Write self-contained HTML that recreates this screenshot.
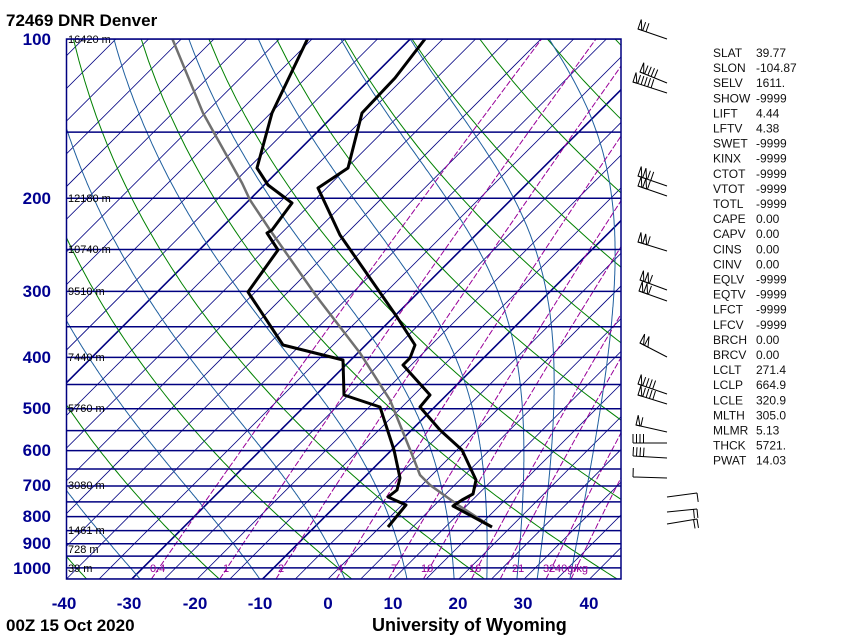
<!DOCTYPE html>
<html><head><meta charset="utf-8"><style>
html,body{margin:0;padding:0;background:#fff;}
svg{display:block;font-family:"Liberation Sans",sans-serif;}
</style></head><body>
<svg id="s" width="851" height="640" viewBox="0 0 851 640" xmlns="http://www.w3.org/2000/svg">
<defs><clipPath id="c"><rect x="66" y="39" width="555" height="540"/></clipPath></defs>
<rect width="851" height="640" fill="#fff"/>
<g id="bg" clip-path="url(#c)"></g>
<g id="fg" clip-path="url(#c)">
<polyline fill="none" stroke="#707070" stroke-width="2.5" points="172,38 203,113 242,183 250,200 270,230 317,297 360,353 390,400 413,457 420,475 430,485 458,505 492,527"/>
<polyline fill="none" stroke="#000" stroke-width="3" stroke-linejoin="round" points="425,39 395,78 362,113 348,168 318,188 340,235 397,317 415,345 410,358 403,365 430,395 420,407 440,430 462,450 476,480 473,494 462,500 453,506 492,527"/>
<polyline fill="none" stroke="#000" stroke-width="3" stroke-linejoin="round" points="308,38 272,113 257,168 268,185 292,203 272,230 267,233 278,250 248,292 283,345 343,360 344,395 380,407 394,450 400,478 397,490 388,497 406,505 388,527"/>
</g>
<g font-size="11" fill="#000">
<text x="68" y="43">16420 m</text><text x="68" y="202">12180 m</text><text x="68" y="253">10740 m</text>
<text x="68" y="295">9510 m</text><text x="68" y="361">7440 m</text><text x="68" y="412">5760 m</text>
<text x="68" y="489">3080 m</text><text x="68" y="534">1461 m</text><text x="68" y="553">728 m</text><text x="68" y="572">39 m</text>
</g>
<g font-size="11" fill="#990099">
<text x="150" y="572">0.4</text><text x="223" y="572">1</text><text x="278" y="572">2</text><text x="337" y="572">4</text>
<text x="391" y="572">7</text><text x="421" y="572">10</text><text x="469" y="572">16</text><text x="512" y="572">21</text>
<text x="543" y="572">32</text><text x="555" y="572">40g/kg</text>
</g>
<g font-size="17" font-weight="bold" fill="#000090" text-anchor="end">
<text x="51" y="45">100</text><text x="51" y="204">200</text><text x="51" y="297">300</text><text x="51" y="363">400</text>
<text x="51" y="414">500</text><text x="51" y="456">600</text><text x="51" y="491">700</text><text x="51" y="522">800</text>
<text x="51" y="549">900</text><text x="51" y="574">1000</text>
</g>
<g font-size="17" font-weight="bold" fill="#000090" text-anchor="middle">
<text x="64" y="609">-40</text><text x="129" y="609">-30</text><text x="195" y="609">-20</text><text x="260" y="609">-10</text>
<text x="328" y="609">0</text><text x="393" y="609">10</text><text x="458" y="609">20</text><text x="523" y="609">30</text><text x="589" y="609">40</text>
</g>
<text x="6" y="26" font-size="17" font-weight="bold">72469 DNR Denver</text>
<text x="6" y="631" font-size="17" font-weight="bold">00Z 15 Oct 2020</text>
<text x="372" y="631" font-size="18" font-weight="bold">University of Wyoming</text>
<g font-size="12" fill="#111" id="tbl"></g>
<g id="wb" fill="none" stroke="#000" stroke-width="1"></g>
</svg>
<script>
(function(){
var NS="http://www.w3.org/2000/svg";
function el(par,tag,at){var e=document.createElementNS(NS,tag);for(var k in at)e.setAttribute(k,at[k]);par.appendChild(e);return e;}
var bg=document.getElementById('bg');
function Y(p){return 39+229.7*Math.log(p/100);}
function X(T,p){return 328+6.54*T+(579-Y(p));}
function poly(pts,col,w,dash){var a={points:pts.map(function(q){return q[0].toFixed(1)+","+q[1].toFixed(1)}).join(" "),fill:"none",stroke:col,"stroke-width":w};if(dash)a["stroke-dasharray"]=dash;el(bg,"polyline",a);}
// isotherms
for(var T=-170;T<=60;T+=5){var thick=(T==-70||T==-30||T==-10);
 el(bg,"line",{x1:X(T,1050),y1:Y(1050),x2:X(T,100),y2:Y(100),stroke:"#000080","stroke-width":thick?1.6:0.8});}
// dry adiabats
for(var th=233;th<=600;th+=20){var pts=[];for(var p=1050;p>=100;p-=10){pts.push([X(th*Math.pow(p/1000,0.286)-273.15,p),Y(p)]);}poly(pts,"#008000",1);}
// moist adiabats
function es(t){return 6.112*Math.exp(17.67*t/(t+243.5));}
var starts=[-45,-28.7,-10.4,2.6,12.1,19.3,24.3,28.9,32,37];
starts.forEach(function(t0){var t=t0,pts=[];for(var p=1050;p>=100;p-=2){pts.push([X(t,p),Y(p)]);var TK=t+273.15,e=es(t),rs=0.622*e/(p-e);
 var d=(287*TK+2.5e6*rs)/(p*(1004+2.5e6*2.5e6*rs*0.622/(287*TK*TK)));t-=d*2;}poly(pts,"#1f5f9f",1);});
// mixing ratio
[0.4,1,2,4,7,10,16,21,32,40].forEach(function(r){r/=1000;var pts=[];for(var p=1050;p>=100;p-=10){var e=r*p/(0.622+r);var l=Math.log(e/6.112);var td=243.5*l/(17.67-l);pts.push([X(td,p),Y(p)]);}poly(pts,"#990099",1,"6,2");});
// isobars
for(var p=100;p<=1050;p+=50){el(bg,"line",{x1:66,x2:621,y1:Y(p),y2:Y(p),stroke:"#000080","stroke-width":1.5});}
var s=document.getElementById('s');
el(s,"rect",{x:66.5,y:39,width:554.5,height:540,fill:"none",stroke:"#000080","stroke-width":1.5});
// table
var tb=document.getElementById('tbl');
var rows=[["SLAT","39.77"],["SLON","-104.87"],["SELV","1611."],["SHOW","-9999"],["LIFT","4.44"],["LFTV","4.38"],["SWET","-9999"],["KINX","-9999"],["CTOT","-9999"],["VTOT","-9999"],["TOTL","-9999"],["CAPE","0.00"],["CAPV","0.00"],["CINS","0.00"],["CINV","0.00"],["EQLV","-9999"],["EQTV","-9999"],["LFCT","-9999"],["LFCV","-9999"],["BRCH","0.00"],["BRCV","0.00"],["LCLT","271.4"],["LCLP","664.9"],["LCLE","320.9"],["MLTH","305.0"],["MLMR","5.13"],["THCK","5721."],["PWAT","14.03"]];
rows.forEach(function(r,i){var y=57+i*15.1;var a=el(tb,"text",{x:713,y:y});a.textContent=r[0];var b=el(tb,"text",{x:756,y:y});b.textContent=r[1];});
// wind barbs
var wb=document.getElementById('wb');
function barb(x1,y1,x2,y2,np,nb){el(wb,"line",{x1:x1,y1:y1,x2:x2,y2:y2});var dx=(x2-x1),dy=(y2-y1),L=Math.hypot(dx,dy),ux=dx/L,uy=dy/L;
 var px=uy,py=-ux;var pos=0;
 for(var i=0;i<np;i++){var ax=x1+ux*pos,ay=y1+uy*pos;el(wb,"polygon",{points:ax+","+ay+" "+(ax+px*10)+","+(ay+py*10)+" "+(ax+ux*4)+","+(ay+uy*4)});pos+=5;}
 for(var j=0;j<nb;j++){var bx=x1+ux*pos,by=y1+uy*pos;el(wb,"line",{x1:bx,y1:by,x2:bx+px*9,y2:by+py*9});pos+=3.5;}}
barb(638,29,667,39,1,2);barb(640,72,667,83,1,4);barb(633,82,667,93,1,5);
barb(638,176,667,186,2,2);barb(638,186,667,196,2,1);barb(638,242,667,251,2,1);
barb(640,280,667,290,2,1);barb(639,291,667,301,2,1);barb(640,343,667,357,2,0);
barb(638,384,667,394,1,4);barb(638,395,667,404,1,4);barb(636,425,667,432,1,1);
barb(633,443,667,443,0,4);barb(633,456,667,458,0,4);barb(633,477,667,478,0,1);
barb(697,493,667,497,0,1);barb(697,509,667,512,0,2);barb(697,519,667,524,0,2);
})();
</script>
</body></html>
